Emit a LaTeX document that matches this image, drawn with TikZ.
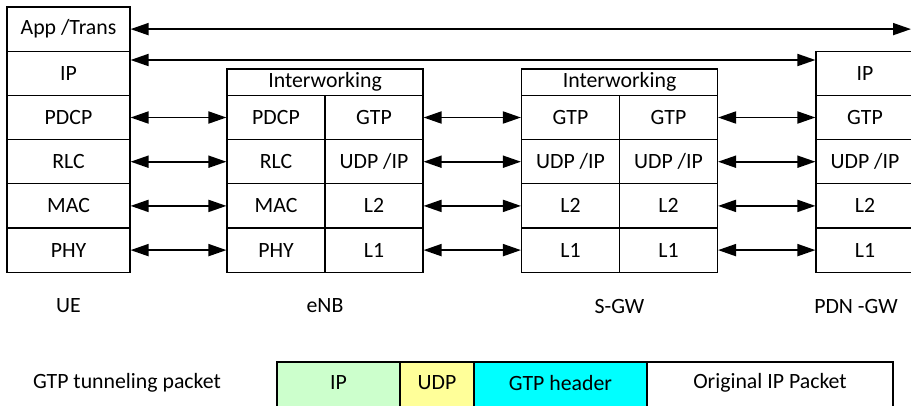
\documentclass[tikz,border=0pt]{standalone}
\usepackage{fontspec}
\setmainfont{Carlito}
\usetikzlibrary{arrows.meta}
\definecolor{pkgreen}{HTML}{CCFFCC}
\definecolor{pkyellow}{HTML}{FFFF99}
\definecolor{pkcyan}{HTML}{00FFFF}
\begin{document}
\begin{tikzpicture}[x=1pt,y=-1pt,
  every node/.style={font=\fontsize{21.8}{26}\selectfont},
  cell/.style={draw, line width=1.1pt, inner sep=0pt, minimum height=44.2pt},
  uecell/.style={cell, minimum width=123pt},
  ncell/.style={cell, minimum width=98pt},
  iwcell/.style={draw, line width=1.1pt, inner sep=0pt, minimum height=26.4pt, minimum width=196pt},
  arr/.style={line width=1.8pt, {Triangle[length=18pt,width=12pt]}-{Triangle[length=18pt,width=12pt]}},
  lbl/.style={inner sep=0pt},
  pkbox/.style={draw, line width=1.1pt}
]
\useasboundingbox (0,0) rectangle (911,405);
\clip (0,0) rectangle (911,405);
\fill[white] (0,0) rectangle (911,405);

% UE stack
\node[uecell] (ue0) at (68.5,29.1) {App /Trans};
\node[uecell] (ue1) at (68.5,73.3) {IP};
\node[uecell] (ue2) at (68.5,117.5) {PDCP};
\node[uecell] (ue3) at (68.5,161.7) {RLC};
\node[uecell] (ue4) at (68.5,205.9) {MAC};
\node[uecell] (ue5) at (68.5,250.1) {PHY};

% eNB
\node[iwcell] (eiw) at (325,82.2) {Interworking};
\node[ncell] (el2) at (276,117.5) {PDCP};
\node[ncell] (el3) at (276,161.7) {RLC};
\node[ncell] (el4) at (276,205.9) {MAC};
\node[ncell] (el5) at (276,250.1) {PHY};
\node[ncell] (er2) at (374,117.5) {GTP};
\node[ncell] (er3) at (374,161.7) {UDP /IP};
\node[ncell] (er4) at (374,205.9) {L2};
\node[ncell] (er5) at (374,250.1) {L1};

% S-GW
\node[iwcell] (siw) at (619.5,82.2) {Interworking};
\node[ncell] (sl2) at (570.5,117.5) {GTP};
\node[ncell] (sl3) at (570.5,161.7) {UDP /IP};
\node[ncell] (sl4) at (570.5,205.9) {L2};
\node[ncell] (sl5) at (570.5,250.1) {L1};
\node[ncell] (sr2) at (668.5,117.5) {GTP};
\node[ncell] (sr3) at (668.5,161.7) {UDP /IP};
\node[ncell] (sr4) at (668.5,205.9) {L2};
\node[ncell] (sr5) at (668.5,250.1) {L1};

% PDN-GW
\node[ncell] (p1) at (865,73.3) {IP};
\node[ncell] (p2) at (865,117.5) {GTP};
\node[ncell] (p3) at (865,161.7) {UDP /IP};
\node[ncell] (p4) at (865,205.9) {L2};
\node[ncell] (p5) at (865,250.1) {L1};

% peer arrows
\coordinate (append) at (911,29.1);
\coordinate (iplev) at (0,60);
\draw[arr] (ue0.east) -- (append);
\draw[arr] (ue1.east |- iplev) -- (p1.west |- iplev);
\foreach \i in {2,3,4,5}{
  \draw[arr] (ue\i.east) -- (el\i.west);
  \draw[arr] (er\i.east) -- (sl\i.west);
  \draw[arr] (sr\i.east) -- (p\i.west);
}

% labels
\node[lbl] (lue) at (68.5,306) {UE};
\node[lbl] (lenb) at (325,306) {eNB};
\node[lbl] (lsgw) at (619.5,306) {S-GW};
\node[lbl] (lpdn) at (856,306) {PDN -GW};

% GTP tunneling packet
\node[lbl] (pkl) at (127,383) {GTP tunneling packet};
\draw[pkbox, fill=pkgreen] (277,362) rectangle (400,420);
\draw[pkbox, fill=pkyellow] (400,362) rectangle (474,420);
\draw[pkbox, fill=pkcyan] (474,362) rectangle (647,420);
\draw[pkbox, fill=white] (647,362) rectangle (893,420);
\node[lbl] (pk1) at (338.5,383) {IP};
\node[lbl] (pk2) at (437,383) {UDP};
\node[lbl] (pk3) at (560.5,383) {GTP header};
\node[lbl] (pk4) at (770,383) {Original IP Packet};
\end{tikzpicture}
\end{document}
